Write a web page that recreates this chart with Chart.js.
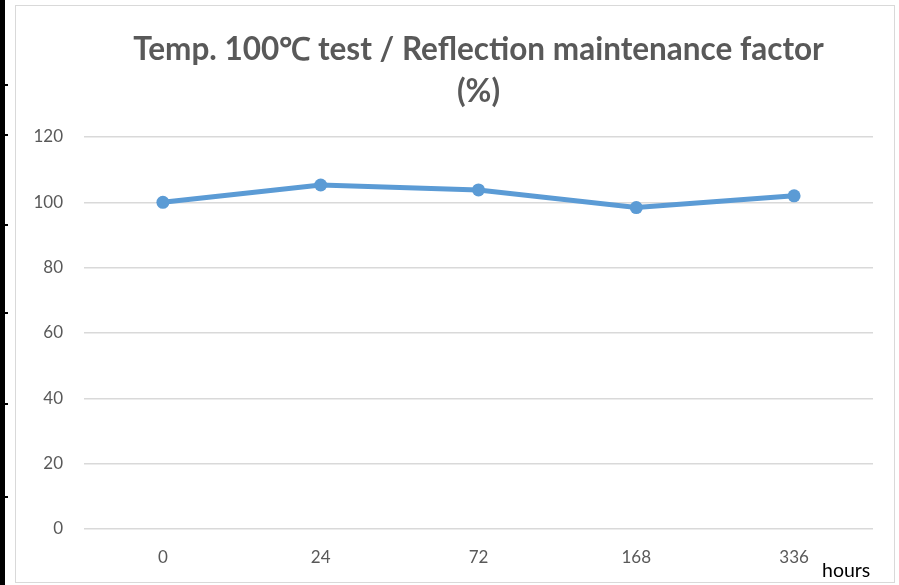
<!DOCTYPE html>
<html>
<head>
<meta charset="utf-8">
<script src="https://cdn.jsdelivr.net/npm/chart.js@4/dist/chart.umd.min.js"></script>
<style>
  html, body { margin: 0; padding: 0; background: #fff; }
  #wrap { position: relative; width: 899px; height: 585px; overflow: hidden; background: #fff; }
  #c { position: absolute; left: 0; top: 0; }
  .frame { position: absolute; left: 15px; top: 5px; width: 880px; height: 578px; border: 1px solid #D9D9D9; box-sizing: border-box; pointer-events: none; }
  .bar { position: absolute; left: 0; top: 0; width: 5px; height: 585px; background: #000; }
  .tick { position: absolute; left: 0; width: 8px; height: 2px; background: #000; }
  .hours { position: absolute; left: 822px; top: 558px; font-family: Lato, "Open Sans", sans-serif; font-size: 19.5px; color: #000; }
</style>
</head>
<body>
<div id="wrap">
  <canvas id="c" width="899" height="585"></canvas>
  <div class="frame"></div>
  <div class="bar"></div>
  <div class="tick" style="top:84px"></div>
  <div class="tick" style="top:134px"></div>
  <div class="tick" style="top:224px"></div>
  <div class="tick" style="top:312px"></div>
  <div class="tick" style="top:403px"></div>
  <div class="tick" style="top:496px"></div>
  <div class="hours">hours</div>
</div>
<script>
const titleLines = ['Temp. 100\u2103 test / Reflection maintenance factor', '(%)'];
const categories = ['0', '24', '72', '168', '336'];
const maintenanceFactor = [100, 105.3, 103.8, 98.4, 102.0];
const yTicks = [0, 20, 40, 60, 80, 100, 120];

new Chart(document.getElementById('c'), {
  type: 'line',
  data: {
    labels: categories,
    datasets: [{
      data: maintenanceFactor,
      borderColor: '#5B9BD5',
      backgroundColor: '#5B9BD5',
      borderWidth: 5,
      pointRadius: 6.5,
      pointHoverRadius: 6.5,
      pointBorderWidth: 0,
      tension: 0,
      fill: false
    }]
  },
  options: {
    responsive: false,
    animation: false,
    devicePixelRatio: 1,
    layout: { padding: { left: 15, right: 26, top: 0, bottom: 0 } },
    plugins: {
      legend: { display: false },
      tooltip: { enabled: false },
      title: {
        display: true,
        fullSize: false,
        text: titleLines,
        color: '#595959',
        font: { family: 'Lato, "Open Sans", sans-serif', size: 31.5, weight: 'bold', lineHeight: 1.333 },
        padding: { top: 29, bottom: 24 }
      }
    },
    scales: {
      x: {
        offset: true,
        grid: { display: false, drawTicks: false },
        border: { display: false },
        ticks: { color: '#595959', font: { family: 'Lato, "Open Sans", sans-serif', size: 17 }, padding: 18 },
        afterFit: (s) => { s.height = 56; }
      },
      y: {
        min: 0, max: 120,
        afterBuildTicks: (s) => { s.ticks = yTicks.map(v => ({ value: v })); },
        grid: { color: '#D9D9D9', lineWidth: 1.5, drawTicks: false },
        border: { display: false },
        ticks: { color: '#595959', font: { family: 'Lato, "Open Sans", sans-serif', size: 17 }, padding: 21 },
        afterFit: (s) => { s.width = 69; }
      }
    }
  }
});
</script>
</body>
</html>
